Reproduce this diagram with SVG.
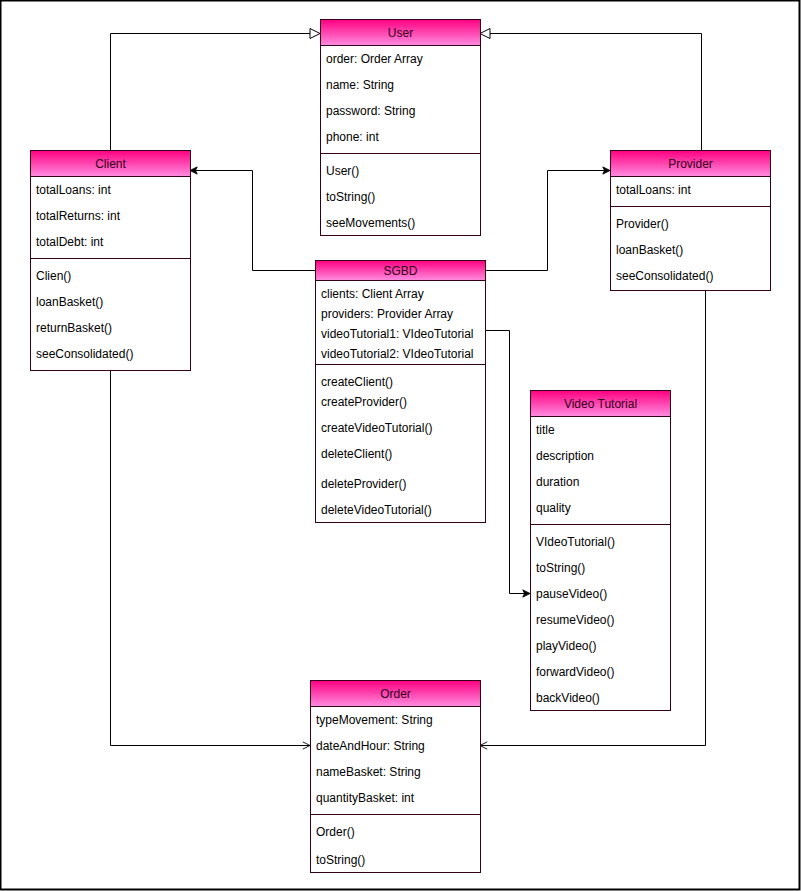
<svg xmlns="http://www.w3.org/2000/svg" width="801" height="891" viewBox="0 0 801 891">
<defs>
<linearGradient id="hg" x1="0" y1="0" x2="0" y2="1">
<stop offset="0" stop-color="#ff0080"/>
<stop offset="1" stop-color="#ff8ce0"/>
</linearGradient>
<marker id="tri" viewBox="0 0 12 12" refX="11" refY="6" markerWidth="12" markerHeight="12" markerUnits="userSpaceOnUse" orient="auto">
<path d="M1,1 L11,6 L1,11 Z" fill="#fff" stroke="#000" stroke-width="1"/>
</marker>
<marker id="blk" viewBox="0 0 10 10" refX="9" refY="5" markerWidth="9" markerHeight="9" markerUnits="userSpaceOnUse" orient="auto">
<path d="M1,1 L9,5 L1,9 L3,5 Z" fill="#000" stroke="#000" stroke-width="1"/>
</marker>
<marker id="opn" viewBox="0 0 10 10" refX="9" refY="5" markerWidth="9" markerHeight="9" markerUnits="userSpaceOnUse" orient="auto">
<path d="M1,1 L9,5 L1,9" fill="none" stroke="#000" stroke-width="1"/>
</marker>
</defs>
<style>
.box{fill:#fff;stroke:#33001a;stroke-width:1}
.hd{fill:url(#hg);stroke:#33001a;stroke-width:1}
.sep{stroke:#33001a;stroke-width:1}
.t{font-family:"Liberation Sans",Arial,sans-serif;font-size:12px;fill:#000}
.h{font-family:"Liberation Sans",Arial,sans-serif;font-size:12px;fill:#33001a;text-anchor:middle}
.c{fill:none;stroke:#000;stroke-width:1}
</style>
<rect x="0.5" y="0.5" width="799" height="889" fill="#fff" stroke="#000" stroke-width="2"/>
<g id="connectors">
<path class="c" d="M110.5,150 V33.5 H320" marker-end="url(#tri)"/>
<path class="c" d="M701.5,150 V33.5 H480" marker-end="url(#tri)"/>
<path class="c" d="M315,270.5 H252.5 V170.5 H190" marker-end="url(#blk)"/>
<path class="c" d="M485,270.5 H547.5 V170.5 H610" marker-end="url(#blk)"/>
<path class="c" d="M485,330.5 H509.5 V593.5 H530" marker-end="url(#blk)"/>
<path class="c" d="M110.5,370 V745.5 H310" marker-end="url(#opn)"/>
<path class="c" d="M705.5,290 V745.5 H480" marker-end="url(#opn)"/>
</g>
<g id="User">
<rect class="box" x="320.5" y="19.5" width="160" height="216"/>
<rect class="hd" x="320.5" y="19.5" width="160" height="26"/>
<text class="h" x="400.5" y="37">User</text>
<text class="t" x="326" y="63">order: Order Array</text>
<text class="t" x="326" y="89">name: String</text>
<text class="t" x="326" y="115">password: String</text>
<text class="t" x="326" y="141">phone: int</text>
<line class="sep" x1="320.5" y1="153.5" x2="480.5" y2="153.5"/>
<text class="t" x="326" y="175">User()</text>
<text class="t" x="326" y="201">toString()</text>
<text class="t" x="326" y="227">seeMovements()</text>
</g>
<g id="Client">
<rect class="box" x="30.5" y="150.5" width="160" height="220"/>
<rect class="hd" x="30.5" y="150.5" width="160" height="26"/>
<text class="h" x="110.5" y="168">Client</text>
<text class="t" x="36" y="194">totalLoans: int</text>
<text class="t" x="36" y="220">totalReturns: int</text>
<text class="t" x="36" y="246">totalDebt: int</text>
<line class="sep" x1="30.5" y1="258.5" x2="190.5" y2="258.5"/>
<text class="t" x="36" y="280">Clien()</text>
<text class="t" x="36" y="306">loanBasket()</text>
<text class="t" x="36" y="332">returnBasket()</text>
<text class="t" x="36" y="358">seeConsolidated()</text>
</g>
<g id="Provider">
<rect class="box" x="610.5" y="150.5" width="160" height="140"/>
<rect class="hd" x="610.5" y="150.5" width="160" height="26"/>
<text class="h" x="690.5" y="168">Provider</text>
<text class="t" x="616" y="194">totalLoans: int</text>
<line class="sep" x1="610.5" y1="206.5" x2="770.5" y2="206.5"/>
<text class="t" x="616" y="228">Provider()</text>
<text class="t" x="616" y="254">loanBasket()</text>
<text class="t" x="616" y="280">seeConsolidated()</text>
</g>
<g id="SGBD">
<rect class="box" x="315.5" y="260.5" width="170" height="262"/>
<rect class="hd" x="315.5" y="260.5" width="170" height="20"/>
<text class="h" x="400.5" y="275">SGBD</text>
<text class="t" x="321" y="298">clients: Client Array</text>
<text class="t" x="321" y="318">providers: Provider Array</text>
<text class="t" x="321" y="338">videoTutorial1: VIdeoTutorial</text>
<text class="t" x="321" y="358">videoTutorial2: VIdeoTutorial</text>
<line class="sep" x1="315.5" y1="364.5" x2="485.5" y2="364.5"/>
<text class="t" x="321" y="386">createClient()</text>
<text class="t" x="321" y="406">createProvider()</text>
<text class="t" x="321" y="432">createVideoTutorial()</text>
<text class="t" x="321" y="458">deleteClient()</text>
<text class="t" x="321" y="488">deleteProvider()</text>
<text class="t" x="321" y="514">deleteVideoTutorial()</text>
</g>
<g id="VideoTutorial">
<rect class="box" x="530.5" y="390.5" width="140" height="320"/>
<rect class="hd" x="530.5" y="390.5" width="140" height="26"/>
<text class="h" x="600.5" y="408">Video Tutorial</text>
<text class="t" x="536" y="434">title</text>
<text class="t" x="536" y="460">description</text>
<text class="t" x="536" y="486">duration</text>
<text class="t" x="536" y="512">quality</text>
<line class="sep" x1="530.5" y1="524.5" x2="670.5" y2="524.5"/>
<text class="t" x="536" y="546">VIdeoTutorial()</text>
<text class="t" x="536" y="572">toString()</text>
<text class="t" x="536" y="598">pauseVideo()</text>
<text class="t" x="536" y="624">resumeVideo()</text>
<text class="t" x="536" y="650">playVideo()</text>
<text class="t" x="536" y="676">forwardVideo()</text>
<text class="t" x="536" y="702">backVideo()</text>
</g>
<g id="Order">
<rect class="box" x="310.5" y="680.5" width="170" height="192"/>
<rect class="hd" x="310.5" y="680.5" width="170" height="26"/>
<text class="h" x="395.5" y="698">Order</text>
<text class="t" x="316" y="724">typeMovement: String</text>
<text class="t" x="316" y="750">dateAndHour: String</text>
<text class="t" x="316" y="776">nameBasket: String</text>
<text class="t" x="316" y="802">quantityBasket: int</text>
<line class="sep" x1="310.5" y1="814.5" x2="480.5" y2="814.5"/>
<text class="t" x="316" y="836">Order()</text>
<text class="t" x="316" y="864">toString()</text>
</g>
</svg>
